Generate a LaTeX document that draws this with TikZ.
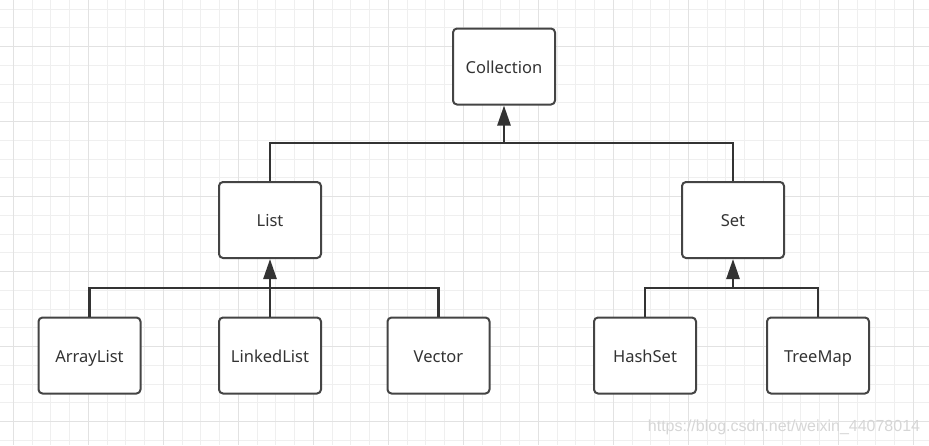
\documentclass[tikz,border=0pt]{standalone}
\usepackage{fontspec}
\setmainfont{Noto Sans}
\newfontfamily\wmfont{Liberation Sans}
\usetikzlibrary{arrows.meta}
\definecolor{minorgrid}{HTML}{EFEFEF}
\definecolor{majorgrid}{HTML}{E2E2E2}
\definecolor{boxc}{HTML}{444444}
\definecolor{linec}{HTML}{333333}
\definecolor{textc}{HTML}{333333}
\definecolor{wmc}{HTML}{D6D6D6}
\begin{document}
\begin{tikzpicture}[x=1pt,y=-1pt,
  box/.style={draw=boxc, line width=2pt, rounded corners=4pt, fill=white,
    minimum width=102pt, minimum height=76pt, inner sep=0pt, text=textc,
    text height=13pt, text depth=0pt,
    font=\fontsize{16.5}{19}\selectfont},
  link/.style={draw=linec, line width=2.6pt},
  arr/.style={link, -{Triangle[length=20pt,width=13pt]}},
  mingrid/.style={draw=minorgrid, line width=1pt},
  majgrid/.style={draw=majorgrid, line width=1pt}]
\useasboundingbox (0,0) rectangle (929,445);
\begin{scope}
\clip (0,0) rectangle (929,445);
\fill[white] (0,0) rectangle (929,445);
\foreach \i in {0,...,49} {\draw[mingrid] ({13.3+18.75*\i},0) -- ++(0,445);}
\foreach \i in {0,...,23} {\draw[mingrid] (0,{9+18.75*\i}) -- ++(929,0);}
\foreach \i in {0,...,12} {\draw[majgrid] ({13.3+75*\i},0) -- ++(0,445);}
\foreach \i in {0,...,5} {\draw[majgrid] (0,{46.5+75*\i}) -- ++(929,0);}
\end{scope}

\node[box] (coll) at (504,66.5) {Collection};
\node[box] (list) at (270,220) {List};
\node[box] (set) at (733,220) {Set};
\node[box] (al) at (89.5,355.5) {ArrayList};
\node[box] (ll) at (270,355.5) {LinkedList};
\node[box] (vec) at (438.5,355.5) {Vector};
\node[box] (hs) at (645,355.5) {HashSet};
\node[box] (tm) at (818,355.5) {TreeMap};

\coordinate (j1) at (504,143);
\coordinate (j2) at (270,288);
\coordinate (j3) at (733,288);

\draw[link] (list.north) |- (j1) -| (set.north);
\draw[arr] (j1) -- (coll.south);
\draw[link] (al.north) |- (j2) -| (vec.north);
\draw[link] (ll.north) -- (j2);
\draw[arr] (j2) -- (list.south);
\draw[link] (hs.north) |- (j3) -| (tm.north);
\draw[arr] (j3) -- (set.south);

\node[text=wmc, font=\wmfont\fontsize{16}{19}\selectfont, inner sep=0pt] (wm) at (784,427) {https://blog.csdn.net/weixin\_44078014};
\end{tikzpicture}
\end{document}
